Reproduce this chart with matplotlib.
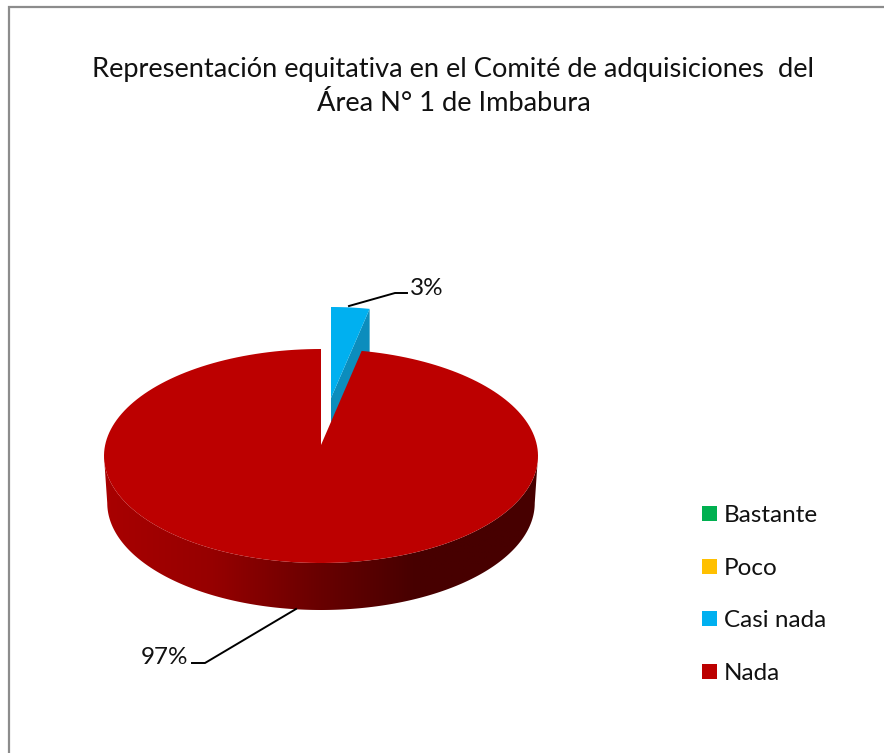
import numpy as np
import matplotlib
matplotlib.use('Agg')
import matplotlib.pyplot as plt
from matplotlib.colors import LinearSegmentedColormap
from matplotlib.patches import Polygon, Rectangle

categories = ['Bastante', 'Poco', 'Casi nada', 'Nada']
values = [0, 0, 3, 97]
colors = ['#00B050', '#FFC000', '#00B0F0', '#BC0000']
title = 'Representación equitativa en el Comité de adquisiciones  del\nÁrea N° 1 de Imbabura'

W, H = 884, 753
plt.rcParams['font.family'] = ['Lato', 'DejaVu Sans']

fig = plt.figure(figsize=(W / 100, H / 100), dpi=100)
ax = fig.add_axes([0, 0, 1, 1])
ax.set_xlim(0, W)
ax.set_ylim(H, 0)
ax.axis('off')

# pie geometry in pixels
cx, cy, rx, ry = 321, 456, 217, 107
apex_y = 445
depth = 47


def rim(start, end, dx=0.0, dy=0.0, shrink=1.0):
    t = np.radians(np.linspace(start, end, 200))
    return np.c_[cx + dx + rx * shrink * np.sin(t), cy + dy - ry * np.cos(t)]


# angles come from the values, clockwise from 12 o'clock
total = sum(values)
blue_end = values[2] / total * 360

# exploded slice, drawn first so the big slice covers it
bdx, bdy = 10, -42
arc = rim(0, blue_end, bdx, bdy, 0.95)
blue_apex = (cx + bdx, apex_y + bdy - 5)
blue_front = (cx + bdx, blue_apex[1] + 25)
side = np.array([arc[-1], arc[-1] + [0, depth], blue_front, blue_apex])
ax.add_patch(Polygon(side, closed=True, fc='#0C8DBD', ec='none', zorder=2))
ax.add_patch(Polygon(np.vstack([arc, blue_apex]), closed=True, fc=colors[2],
                     ec='none', zorder=3))

# side wall of the big slice
upper = rim(90, 270)
lower = rim(270, 90, 0, depth, 0.985)
wall = Polygon(np.vstack([upper, lower]), closed=True, fc='none', ec='none', zorder=4)
ax.add_patch(wall)
wall_cmap = LinearSegmentedColormap.from_list(
    'wall', [(0, '#A80000'), (0.25, '#960000'), (0.5, '#680000'), (0.72, '#470000'), (1, '#470000')])
im = ax.imshow(np.linspace(0, 1, 256)[None, :], cmap=wall_cmap, aspect='auto',
               extent=(cx - rx, cx + rx, cy + ry + depth + 5, cy - 10), zorder=4)
im.set_clip_path(wall)
ax.set_xlim(0, W)
ax.set_ylim(H, 0)

# top face of the big slice
top = np.vstack([[(cx, apex_y)], rim(blue_end, 360), [(cx, apex_y)]])
ax.add_patch(Polygon(top, closed=True, fc=colors[3], ec='none', zorder=5))

# leader lines and labels
ax.plot([349, 395, 407], [306, 293, 293], color='black', lw=1.4, zorder=6)
ax.plot([296, 205, 192], [609, 663, 663], color='black', lw=1.4, zorder=6)
ax.text(410, 288, f'{values[2]}%', fontsize=17.5, color='#111111', va='center', ha='left')
ax.text(188, 657, f'{values[3]}%', fontsize=17.5, color='#111111', va='center', ha='right')

# legend
legend_y = [513.5, 566.5, 618.5, 671.5]
for name, col, y in zip(categories, colors, legend_y):
    ax.add_patch(Rectangle((702, y - 7.5), 15, 15, fc=col, ec='none'))
    ax.text(724, y + 2, name, fontsize=17.5, color='#111111', va='center', ha='left')

ax.text(453.5, 86, title, fontsize=19.6, color='#111111', ha='center', va='center',
        linespacing=1.45)

# chart border
ax.plot([9, 9, W], [H, 6.5, 6.5], color='#8C8C8C', lw=1.6, solid_joinstyle='miter', zorder=7)

fig.savefig('out.png', dpi=100)
